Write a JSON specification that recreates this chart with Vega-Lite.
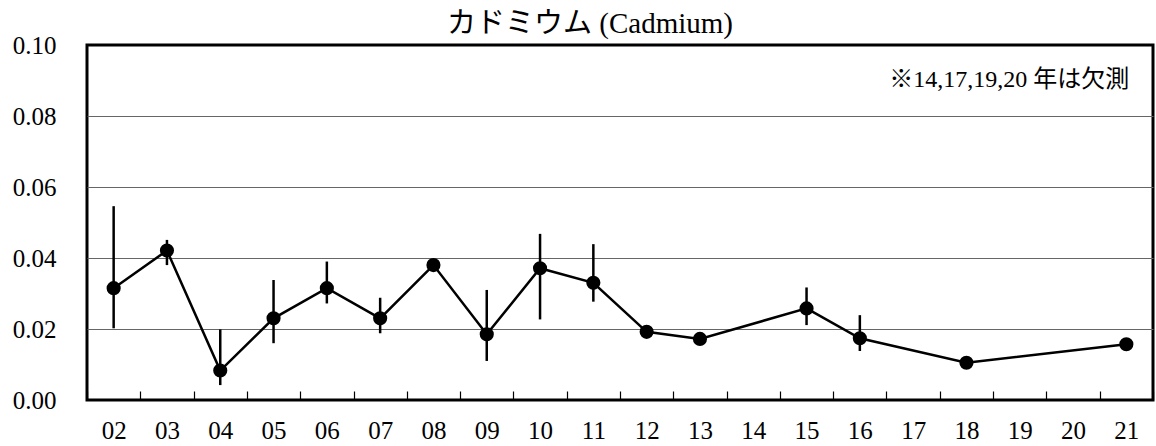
{
  "$schema": "https://vega.github.io/schema/vega-lite/v6.json",
  "width": 1066,
  "height": 355,
  "autosize": {"type": "none"},
  "padding": {"left": 87, "top": 45, "right": 3, "bottom": 46},
  "background": "white",
  "title": {
    "text": "カドミウム (Cadmium)",
    "font": "Liberation Serif, Noto Sans CJK JP",
    "fontSize": 29,
    "fontWeight": "normal",
    "color": "black",
    "anchor": "middle",
    "frame": "group",
    "dx": -30,
    "offset": -6
  },
  "config": {
    "view": {"stroke": "black", "strokeWidth": 3},
    "axis": {
      "title": null
    }
  },
  "data": {
    "values": [
      {"year": "02", "value": 0.0315, "lo": 0.0202, "hi": 0.0546},
      {"year": "03", "value": 0.0421, "lo": 0.038, "hi": 0.0451},
      {"year": "04", "value": 0.0083, "lo": 0.0042, "hi": 0.0199},
      {"year": "05", "value": 0.023, "lo": 0.016, "hi": 0.0338},
      {"year": "06", "value": 0.0315, "lo": 0.0272, "hi": 0.039},
      {"year": "07", "value": 0.023, "lo": 0.0188, "hi": 0.0288},
      {"year": "08", "value": 0.038},
      {"year": "09", "value": 0.0185, "lo": 0.011, "hi": 0.031},
      {"year": "10", "value": 0.0371, "lo": 0.0227, "hi": 0.0468},
      {"year": "11", "value": 0.033, "lo": 0.0277, "hi": 0.0439},
      {"year": "12", "value": 0.0192},
      {"year": "13", "value": 0.0172},
      {"year": "15", "value": 0.0258, "lo": 0.0211, "hi": 0.0317},
      {"year": "16", "value": 0.0174, "lo": 0.0138, "hi": 0.0239},
      {"year": "18", "value": 0.0105},
      {"year": "21", "value": 0.0157}
    ]
  },
  "layer": [
    {
      "mark": {"type": "rule", "color": "black", "strokeWidth": 2.5},
      "transform": [{"filter": "isValid(datum.lo)"}],
      "encoding": {
        "x": {
          "field": "year",
          "type": "ordinal",
          "sort": null,
          "scale": {
            "domain": ["02","03","04","05","06","07","08","09","10","11","12","13","14","15","16","17","18","19","20","21"],
            "paddingInner": 0,
            "paddingOuter": 0
          },
          "axis": {
            "labelAngle": 0,
            "labelFont": "Liberation Serif",
            "labelFontSize": 25,
            "labelColor": "black",
            "domain": false,
            "grid": false,
            "ticks": true,
            "tickBand": "extent",
            "tickSize": -9,
            "tickColor": "black",
            "tickWidth": 1.2,
            "labelPadding": 27
          }
        },
        "y": {
          "field": "lo",
          "type": "quantitative",
          "scale": {"domain": [0, 0.1], "nice": false, "zero": true},
          "axis": {
            "values": [0, 0.02, 0.04, 0.06, 0.08, 0.1],
            "format": ".2f",
            "labelFont": "Liberation Serif",
            "labelFontSize": 25,
            "labelColor": "black",
            "domain": false,
            "ticks": false,
            "grid": true,
            "gridColor": "#666666",
            "gridWidth": 1,
            "gridOpacity": {"condition": {"test": "datum.value == 0 || datum.value == 0.1", "value": 0}, "value": 1},
            "labelPadding": 31
          }
        },
        "y2": {"field": "hi"}
      }
    },
    {
      "mark": {"type": "line", "color": "black", "strokeWidth": 2.5},
      "encoding": {
        "x": {"field": "year", "type": "ordinal", "sort": null},
        "y": {"field": "value", "type": "quantitative"}
      }
    },
    {
      "mark": {"type": "point", "shape": "circle", "filled": true, "color": "black", "opacity": 1, "size": 200},
      "encoding": {
        "x": {"field": "year", "type": "ordinal", "sort": null},
        "y": {"field": "value", "type": "quantitative"}
      }
    },
    {
      "data": {"values": [{"note": "※14,17,19,20 年は欠測", "year": "21", "pos": 0.0901}]},
      "mark": {
        "type": "text",
        "font": "Liberation Serif, Noto Sans CJK JP",
        "fontSize": 24,
        "fontWeight": "normal",
        "align": "right",
        "baseline": "middle",
        "fill": "black",
        "dx": 3
      },
      "encoding": {
        "x": {"field": "year", "type": "ordinal", "sort": null},
        "y": {"field": "pos", "type": "quantitative"},
        "text": {"field": "note"}
      }
    }
  ]
}
